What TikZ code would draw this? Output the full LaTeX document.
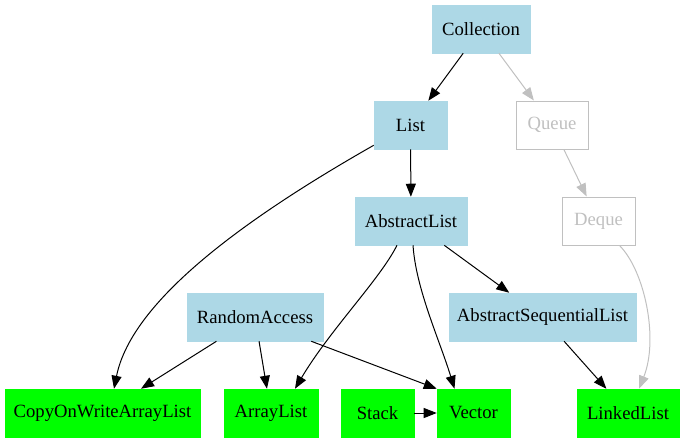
\documentclass[tikz,border=0pt]{standalone}
\usepackage{fontspec}
\setmainfont{Liberation Serif}
\usetikzlibrary{arrows.meta,calc}
\definecolor{lb}{HTML}{ADD8E6}
\definecolor{gr}{HTML}{00FF00}
\definecolor{gy}{HTML}{C0C0C0}
\tikzset{
  boxbase/.style={rectangle, minimum height=36pt, inner sep=0pt, font=\fontsize{14pt}{16pt}\selectfont},
  lbbox/.style={boxbase, fill=lb, draw=lb},
  grbox/.style={boxbase, fill=gr, draw=gr},
  gybox/.style={boxbase, draw=gy, text=gy, fill=white, line width=0.75pt},
  arr/.style={-{Triangle[length=9.75pt,width=7.5pt]}, line width=0.75pt, draw=black},
  garr/.style={-{Triangle[length=9.75pt,width=7.5pt]}, line width=0.75pt, draw=gy},
}
\begin{document}
\begin{tikzpicture}[x=0.75pt,y=-0.75pt]
\useasboundingbox (0,0) rectangle (684,443);
% nodes
\node[lbbox, minimum width=73.5pt] (Collection) at (481,29) {Collection};
\node[lbbox, minimum width=54.75pt] (List) at (410.5,125) {List};
\node[gybox, minimum width=54pt] (Queue) at (552,125) {Queue};
\node[lbbox, minimum width=84pt] (AbstractList) at (411,221) {AbstractList};
\node[gybox, minimum width=54.75pt] (Deque) at (598.5,221) {Deque};
\node[lbbox, minimum width=102pt] (RandomAccess) at (255,317) {RandomAccess};
\node[lbbox, minimum width=140.25pt] (ASL) at (542.5,317) {AbstractSequentialList};
\node[grbox, minimum width=146.25pt] (COW) at (102.5,413) {CopyOnWriteArrayList};
\node[grbox, minimum width=70.5pt] (ArrayList) at (271,413) {ArrayList};
\node[grbox, minimum width=54.75pt] (Stack) at (377.5,413) {Stack};
\node[grbox, minimum width=54.75pt] (Vector) at (473.5,413) {Vector};
\node[grbox, minimum width=76.5pt] (LinkedList) at (628,413) {LinkedList};
% edges
\draw[arr] (Collection) -- (List);
\draw[garr] (Collection) -- (Queue);
\draw[arr] (List) -- (AbstractList);
\draw[arr] ($(List.south west)+(0,-4)$) .. controls +(-123,70) and +(18,-90) .. ($(COW.north)+(11.5,0)$);
\draw[garr] (Queue) -- (Deque);
\draw[arr] (AbstractList) -- (ASL);
\draw[arr] ($(AbstractList.south)+(-14,0)$) .. controls +(-17,34) and +(35,-59) .. ($(ArrayList.north)+(24,0)$);
\draw[arr] ($(AbstractList.south)+(2,0)$) .. controls +(3,44) and +(-15,-49) .. ($(Vector.north)+(-19,0)$);
\draw[garr] ($(Deque.south)+(21,0)$) .. controls +(25,25) and +(20,-50) .. ($(LinkedList.north)+(11,0)$);
\draw[arr] (RandomAccess) -- (COW);
\draw[arr] (RandomAccess) -- (ArrayList);
\draw[arr] ($(RandomAccess.south east)+(-12,0)$) -- (Vector.north west);
\draw[arr] (Stack) -- (Vector);
\draw[arr] (ASL) -- (LinkedList);
\end{tikzpicture}
\end{document}
